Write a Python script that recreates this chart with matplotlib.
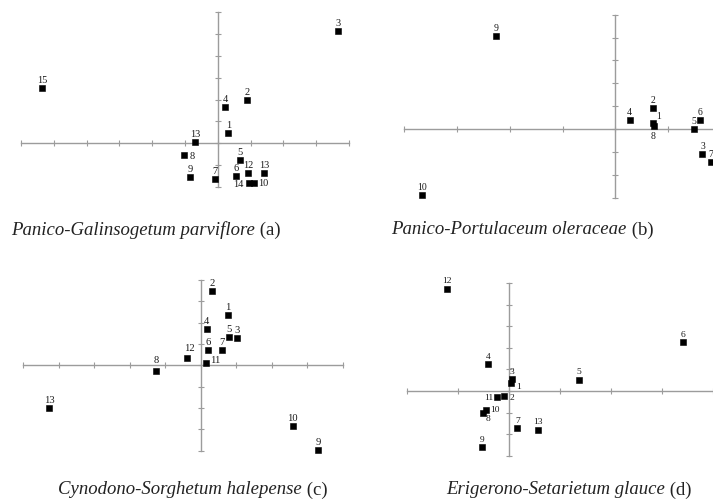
import matplotlib.pyplot as plt

# (a) Panico-Galinsogetum parviflore
a_names = ['1', '2', '3', '4', '5', '6', '7', '8', '9', '10', '12', '13', '13', '14', '15']
a_x = [0.32, 0.90, 3.67, 0.23, 0.67, 0.55, -0.08, -1.03, -0.85, 1.11, 0.93, -0.70, 1.42, 0.95, -5.36]
a_y = [0.49, 2.00, 5.13, 1.68, -0.76, -1.50, -1.65, -0.55, -1.53, -1.80, -1.34, 0.08, -1.37, -1.80, 2.52]

# (b) Panico-Portulaceum oleraceae
b_names = ['1', '2', '3', '4', '5', '6', '7', '8', '9', '10']
b_x = [0.72, 0.72, 1.65, 0.27, 1.49, 1.60, 1.81, 0.73, -2.27, -3.67]
b_y = [0.26, 0.93, -1.07, 0.41, 0.00, 0.41, -1.46, 0.12, 4.09, -2.88]

# (c) Cynodono-Sorghetum halepense
c_names = ['1', '2', '3', '4', '5', '6', '7', '8', '9', '10', '11', '12', '13']
c_x = [0.77, 0.33, 1.01, 0.17, 0.79, 0.20, 0.60, -1.26, 3.31, 2.59, 0.16, -0.38, -4.27]
c_y = [2.36, 3.47, 1.30, 1.69, 1.31, 0.70, 0.73, -0.25, -3.95, -2.84, 0.125, 0.36, -2.02]

# (d) Erigerono-Setarietum glauce
d_names = ['1', '2', '3', '4', '5', '6', '7', '8', '9', '10', '11', '12', '13']
d_x = [0.05, -0.10, 0.07, -0.41, 1.38, 3.42, 0.17, -0.51, -0.53, -0.45, -0.24, -1.22, 0.57]
d_y = [0.37, -0.23, 0.53, 1.24, 0.51, 2.26, -1.72, -1.01, -2.60, -0.87, -0.26, 4.74, -1.80]

W, H = 713, 502
fig = plt.figure(figsize=(W / 100, H / 100), dpi=100)

GRAY = '#9c9c9c'


def panel(px, xlim, ylim, names, xs, ys, offsets, fs):
    left, right, top, bottom = px
    ax = fig.add_axes([left / W, 1 - bottom / H, (right - left) / W, (bottom - top) / H])
    ax.set_xlim(*xlim)
    ax.set_ylim(*ylim)
    for s in ['top', 'right']:
        ax.spines[s].set_visible(False)
    for s in ['left', 'bottom']:
        ax.spines[s].set_position(('data', 0))
        ax.spines[s].set_color(GRAY)
        ax.spines[s].set_linewidth(1.0)
    ax.set_xticks(range(int(xlim[0]), int(xlim[1]) + 1))
    ax.set_yticks(range(int(ylim[0]), int(ylim[1]) + 1))
    ax.tick_params(axis='x', direction='inout', length=4, width=0.8, color=GRAY, labelbottom=False)
    ax.tick_params(axis='y', direction='inout', length=5, width=0.8, color=GRAY, labelleft=False)
    ax.patch.set_visible(False)
    ax.plot(xs, ys, 's', color='black', ms=3.8, mew=0.4, clip_on=False, zorder=3)
    for i, (n, x, y) in enumerate(zip(names, xs, ys)):
        dx, dy = offsets.get(i, (0, 8.5))
        ax.annotate(n, (x, y), xytext=(dx * 0.72, dy * 0.72), textcoords='offset points',
                    ha='center', va='center', fontsize=fs, family='Liberation Serif',
                    color='#1a1a1a', annotation_clip=False)
    return ax


panel((21, 349, 13.3, 188), (-6, 4), (-2, 6), a_names, a_x, a_y,
      {7: (8.3, 0), 9: (9.3, 0.3), 13: (-10.3, -0.7)}, 7.5)
panel((404.5, 713, 15.7, 198.7), (-4, 1.85), (-3, 5), b_names, b_x, b_y,
      {0: (5.7, 7.3), 7: (-0.7, -8.7)}, 7)
panel((23.3, 342.7, 281, 451.7), (-5, 4), (-4, 4), c_names, c_x, c_y,
      {7: (0, 11), 10: (8.3, 3), 11: (2.3, 10)}, 7.6)
panel((406.7, 713, 284, 456.7), (-2, 4), (-3, 5), d_names, d_x, d_y,
      {0: (7.3, -2.7), 1: (8.3, -1.3), 7: (5.3, -5.3), 9: (8.7, 0.3), 10: (-7.5, 0)}, 6.8)


def caption(cx, cy, name, tag):
    kw = dict(fontsize=13.5, family='Liberation Serif', color='#222222', va='center')
    t1 = fig.text(0, 1 - cy / H, name, style='italic', **kw)
    t2 = fig.text(0, 1 - cy / H, ' ' + tag, **kw)
    fig.canvas.draw()
    w1 = t1.get_window_extent().width
    w2 = t2.get_window_extent().width
    x0 = cx - (w1 + w2) / 2
    t1.set_x(x0 / W)
    t2.set_x((x0 + w1) / W)


caption(146, 230, 'Panico-Galinsogetum parviflore', '(a)')
caption(522.5, 230, 'Panico-Portulaceum oleraceae', '(b)')
caption(193, 490, 'Cynodono-Sorghetum halepense', '(c)')
caption(569, 490, 'Erigerono-Setarietum glauce', '(d)')

fig.savefig('out.png', dpi=100)
